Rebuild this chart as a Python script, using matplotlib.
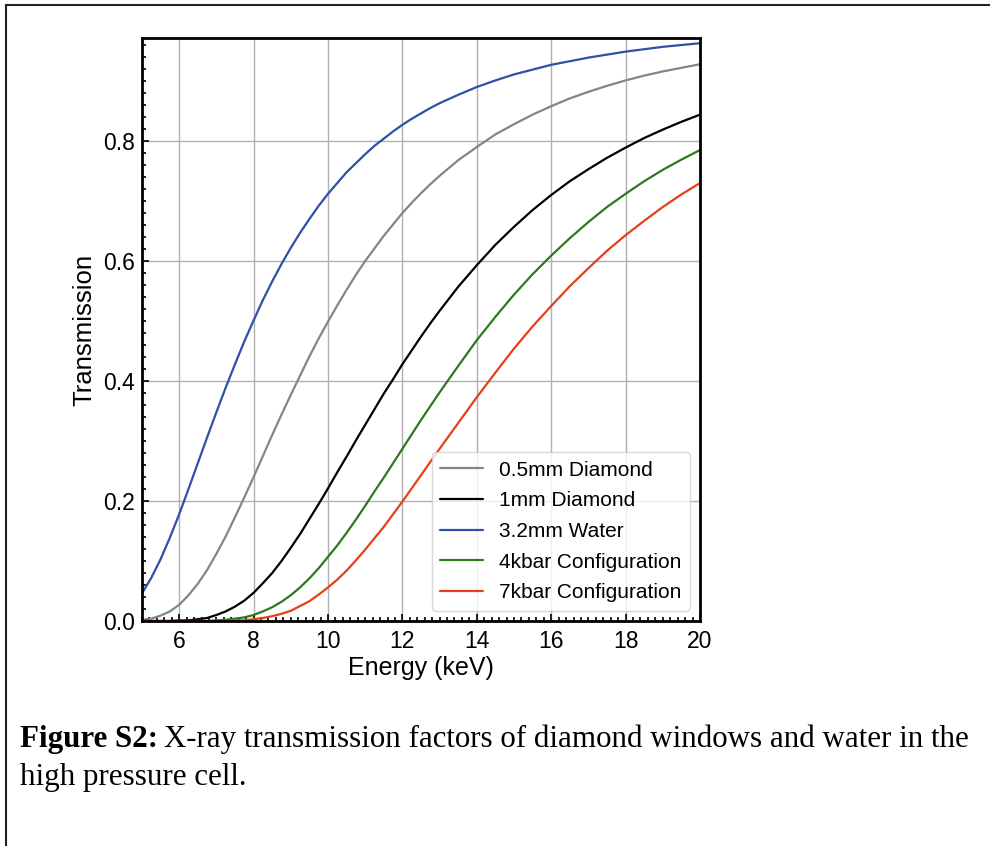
import matplotlib
matplotlib.use('Agg')
import matplotlib.pyplot as plt
from matplotlib.ticker import MultipleLocator, AutoMinorLocator
from matplotlib.lines import Line2D

plt.rcParams['font.family'] = ['Liberation Sans', 'DejaVu Sans']

# values (finer steps where the curves bend)
energy = [5.0, 5.25, 5.5, 5.75, 6.0, 6.25, 6.5, 6.75, 7.0, 7.25, 7.5, 7.75, 8.0, 8.25,
          8.5, 8.75, 9.0, 9.25, 9.5, 9.75, 10.0, 10.25, 10.5, 10.75, 11.0, 11.25, 11.5,
          11.75, 12.0, 12.25, 12.5, 12.75, 13.0, 13.5, 14.0, 14.5, 15.0, 15.5, 16.0, 16.5,
          17.0, 17.5, 18.0, 18.5, 19.0, 19.5, 20.0]
diamond_05 = [0.002, 0.004, 0.009, 0.016, 0.027, 0.043, 0.062, 0.085, 0.112, 0.141, 0.173,
              0.206, 0.240, 0.275, 0.310, 0.344, 0.377, 0.409, 0.441, 0.471, 0.499, 0.526,
              0.552, 0.577, 0.600, 0.621, 0.642, 0.661, 0.680, 0.697, 0.713, 0.728, 0.742,
              0.768, 0.790, 0.811, 0.828, 0.844, 0.858, 0.871, 0.882, 0.892, 0.901, 0.909,
              0.916, 0.922, 0.928]
diamond_1 = [0.000, 0.000, 0.000, 0.000, 0.001, 0.001, 0.003, 0.005, 0.010, 0.016, 0.024,
             0.034, 0.047, 0.063, 0.080, 0.100, 0.122, 0.145, 0.170, 0.195, 0.221, 0.248,
             0.274, 0.301, 0.327, 0.353, 0.379, 0.403, 0.428, 0.451, 0.474, 0.496, 0.517,
             0.557, 0.593, 0.627, 0.657, 0.685, 0.710, 0.733, 0.753, 0.772, 0.789, 0.805,
             0.819, 0.832, 0.844]
water = [0.046, 0.072, 0.103, 0.139, 0.178, 0.220, 0.263, 0.306, 0.348, 0.389, 0.428,
         0.466, 0.501, 0.535, 0.566, 0.595, 0.622, 0.647, 0.670, 0.692, 0.712, 0.730,
         0.748, 0.763, 0.778, 0.792, 0.804, 0.816, 0.827, 0.837, 0.846, 0.855, 0.863,
         0.877, 0.890, 0.901, 0.911, 0.919, 0.927, 0.933, 0.939, 0.944, 0.949, 0.953,
         0.957, 0.960, 0.963]
config_4kbar = [0.000, 0.000, 0.000, 0.000, 0.000, 0.000, 0.000, 0.000, 0.001, 0.002, 0.004,
                0.006, 0.010, 0.016, 0.023, 0.032, 0.043, 0.056, 0.071, 0.088, 0.107, 0.126,
                0.147, 0.169, 0.192, 0.216, 0.239, 0.263, 0.287, 0.311, 0.335, 0.358, 0.381,
                0.425, 0.468, 0.507, 0.544, 0.578, 0.609, 0.638, 0.665, 0.690, 0.712, 0.733,
                0.752, 0.769, 0.785]
config_7kbar = [0.000, 0.000, 0.000, 0.000, 0.000, 0.000, 0.000, 0.000, 0.000, 0.000, 0.001,
                0.001, 0.003, 0.005, 0.008, 0.012, 0.017, 0.025, 0.033, 0.044, 0.056, 0.069,
                0.084, 0.101, 0.119, 0.138, 0.157, 0.178, 0.199, 0.221, 0.243, 0.265, 0.287,
                0.330, 0.373, 0.414, 0.454, 0.491, 0.525, 0.558, 0.588, 0.617, 0.643, 0.667,
                0.690, 0.711, 0.730]

series = [
    ('0.5mm Diamond', diamond_05, '#858585'),
    ('1mm Diamond', diamond_1, '#000000'),
    ('3.2mm Water', water, '#2e50a6'),
    ('4kbar Configuration', config_4kbar, '#2b7a1c'),
    ('7kbar Configuration', config_7kbar, '#e4401a'),
]

fig = plt.figure(figsize=(9.9, 8.46), dpi=100)
ax = fig.add_axes([142 / 990, 225 / 846, 558 / 990, 583 / 846])

for label, vals, col in series:
    ax.plot(energy, vals, color=col, lw=1.6, label=label,
            solid_joinstyle='round', solid_capstyle='round')

ax.set_xlim(5, 20)
ax.set_ylim(0, 0.9717)
ax.xaxis.set_major_locator(MultipleLocator(2))
ax.yaxis.set_major_locator(MultipleLocator(0.2))
ax.xaxis.set_minor_locator(AutoMinorLocator(10))
ax.yaxis.set_minor_locator(AutoMinorLocator(10))
ax.tick_params(which='both', direction='in', top=False, right=False, labelsize=16.5, pad=5)
ax.tick_params(axis='x', which='both', pad=6.5)
ax.tick_params(which='major', length=5, width=1.2)
ax.tick_params(which='minor', length=3, width=1.2)
ax.grid(True, which='major', color='#b0b0b0', lw=1.0)
for sp in ax.spines.values():
    sp.set_linewidth(2)

ax.set_xlabel('Energy (keV)', fontsize=18, labelpad=2)
ax.set_ylabel('Transmission', fontsize=18.5, labelpad=5)

ax.legend(loc='lower right', fontsize=15, handlelength=2.05, handletextpad=0.77,
          labelspacing=0.56, borderaxespad=0.5, edgecolor='#d0d0d0')

# page border
fig.add_artist(Line2D([6 / 990, 1], [1 - 5 / 846, 1 - 5 / 846], color='#222222', lw=1.5))
fig.add_artist(Line2D([6 / 990, 6 / 990], [0, 1 - 5 / 846], color='#222222', lw=1.5))

# caption
cap_font = ['Liberation Serif', 'DejaVu Serif']
cap_size = 22.3
x0 = 20 / 990
y1 = 1 - 747 / 846
bold = fig.text(x0, y1, 'Figure S2:', fontsize=cap_size, fontweight='bold', family=cap_font,
                va='baseline')
fig.canvas.draw()
bb = bold.get_window_extent(fig.canvas.get_renderer())
fig.text(bb.x1 / 990 + 6 / 990, y1,
         'X-ray transmission factors of diamond windows and water in the',
         fontsize=cap_size, family=cap_font, va='baseline')
fig.text(x0, 1 - 785 / 846, 'high pressure cell.', fontsize=cap_size, family=cap_font,
         va='baseline')

fig.savefig('out.png', dpi=100)
